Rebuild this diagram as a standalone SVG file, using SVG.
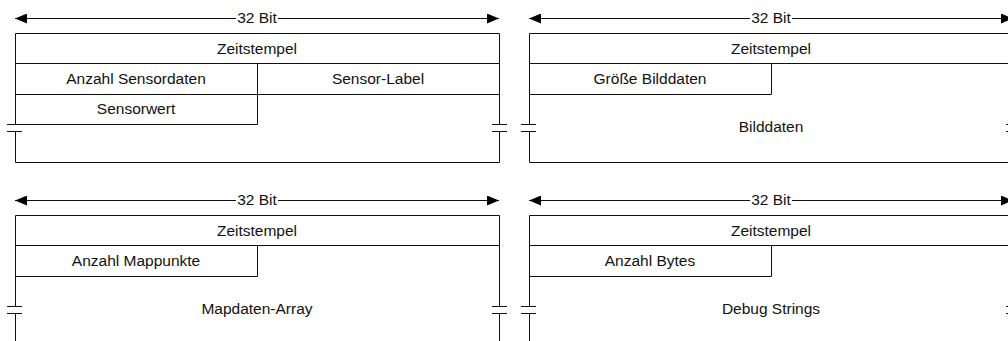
<svg xmlns="http://www.w3.org/2000/svg" width="1008" height="341" viewBox="0 0 1008 341">
<defs>
<style>
.ln{fill:none;stroke:#111;stroke-width:1}
.t{font-family:"Liberation Sans",Arial,sans-serif;font-size:15.5px;fill:#111;text-anchor:middle}
</style>
<marker id="ah" viewBox="0 0 12 10" refX="12" refY="5" markerWidth="12" markerHeight="10" markerUnits="userSpaceOnUse" orient="auto-start-reverse">
<path d="M0,0 L12,5 L0,10 z" fill="#000"/>
</marker>
</defs>
<rect width="1008" height="341" fill="#fff"/>

<g id="connectors">
<path class="ln" d="M15,18.5 H236" marker-start="url(#ah)"/>
<path class="ln" d="M278,18.5 H499" marker-end="url(#ah)"/>
<path class="ln" d="M529,18.5 H750" marker-start="url(#ah)"/>
<path class="ln" d="M792,18.5 H1013" marker-end="url(#ah)"/>
<path class="ln" d="M15,200.5 H236" marker-start="url(#ah)"/>
<path class="ln" d="M278,200.5 H499" marker-end="url(#ah)"/>
<path class="ln" d="M529,200.5 H750" marker-start="url(#ah)"/>
<path class="ln" d="M792,200.5 H1013" marker-end="url(#ah)"/>
</g>

<g id="sensor-packet">
<g id="sensor-width"><text class="t" x="257" y="23">32 Bit</text></g>
<g id="sensor-frame">
<path class="ln" d="M15.5,124.5 V33.5 H499.5 V124.5 M15.5,131.5 V162.5 H499.5 V131.5"/>
<path class="ln" d="M7,124.5 H22 M7,131.5 H22 M492,124.5 H507 M492,131.5 H507"/>
</g>
<g id="sensor-zeitstempel">
<path class="ln" d="M15.5,63.5 H499.5"/>
<text class="t" x="257" y="54">Zeitstempel</text>
</g>
<g id="sensor-anzahl">
<path class="ln" d="M15.5,94.5 H499.5 M257.5,63.5 V124.5"/>
<text class="t" x="136" y="84">Anzahl Sensordaten</text>
</g>
<g id="sensor-label"><text class="t" x="378" y="84">Sensor-Label</text></g>
<g id="sensor-wert">
<path class="ln" d="M15.5,124.5 H257.5"/>
<text class="t" x="136" y="114">Sensorwert</text>
</g>
</g>

<g id="bild-packet">
<g id="bild-width"><text class="t" x="771" y="23">32 Bit</text></g>
<g id="bild-frame">
<path class="ln" d="M529.5,124.5 V33.5 H1013.5 V124.5 M529.5,131.5 V162.5 H1013.5 V131.5"/>
<path class="ln" d="M521,124.5 H536 M521,131.5 H536 M1006,124.5 H1021 M1006,131.5 H1021"/>
</g>
<g id="bild-zeitstempel">
<path class="ln" d="M529.5,63.5 H1013.5"/>
<text class="t" x="771" y="54">Zeitstempel</text>
</g>
<g id="bild-groesse">
<path class="ln" d="M529.5,94.5 H771.5 V63.5"/>
<text class="t" x="650" y="84">Größe Bilddaten</text>
</g>
<g id="bild-daten"><text class="t" x="771" y="132">Bilddaten</text></g>
</g>

<g id="map-packet">
<g id="map-width"><text class="t" x="257" y="205">32 Bit</text></g>
<g id="map-frame">
<path class="ln" d="M15.5,306.5 V215.5 H499.5 V306.5 M15.5,313.5 V344.5 H499.5 V313.5"/>
<path class="ln" d="M7,306.5 H22 M7,313.5 H22 M492,306.5 H507 M492,313.5 H507"/>
</g>
<g id="map-zeitstempel">
<path class="ln" d="M15.5,245.5 H499.5"/>
<text class="t" x="257" y="236">Zeitstempel</text>
</g>
<g id="map-anzahl">
<path class="ln" d="M15.5,276.5 H257.5 V245.5"/>
<text class="t" x="136" y="266">Anzahl Mappunkte</text>
</g>
<g id="map-daten"><text class="t" x="257" y="314">Mapdaten-Array</text></g>
</g>

<g id="debug-packet">
<g id="debug-width"><text class="t" x="771" y="205">32 Bit</text></g>
<g id="debug-frame">
<path class="ln" d="M529.5,306.5 V215.5 H1013.5 V306.5 M529.5,313.5 V344.5 H1013.5 V313.5"/>
<path class="ln" d="M521,306.5 H536 M521,313.5 H536 M1006,306.5 H1021 M1006,313.5 H1021"/>
</g>
<g id="debug-zeitstempel">
<path class="ln" d="M529.5,245.5 H1013.5"/>
<text class="t" x="771" y="236">Zeitstempel</text>
</g>
<g id="debug-anzahl">
<path class="ln" d="M529.5,276.5 H771.5 V245.5"/>
<text class="t" x="650" y="266">Anzahl Bytes</text>
</g>
<g id="debug-strings"><text class="t" x="771" y="314">Debug Strings</text></g>
</g>
</svg>
